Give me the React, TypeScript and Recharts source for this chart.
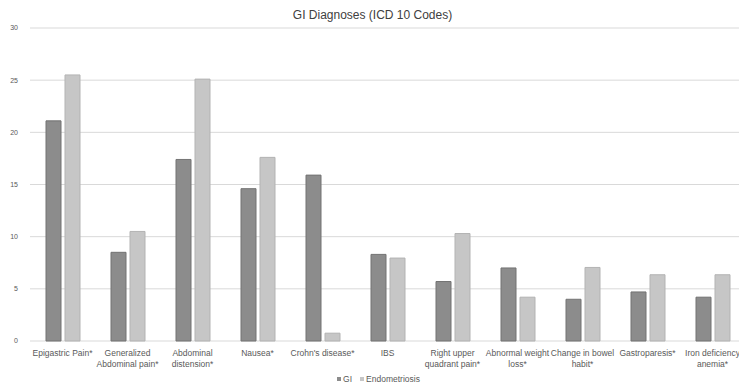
import React from "react";
import { BarChart, Bar, XAxis, YAxis, CartesianGrid, Legend } from "recharts";

// diagnosis labels, "\n" marks where the axis label wraps
const categories = [
  "Epigastric Pain*",
  "Generalized\nAbdominal pain*",
  "Abdominal\ndistension*",
  "Nausea*",
  "Crohn's disease*",
  "IBS",
  "Right upper\nquadrant pain*",
  "Abnormal weight\nloss*",
  "Change in bowel\nhabit*",
  "Gastroparesis*",
  "Iron deficiency\nanemia*",
];

const seriesNames = ["GI", "Endometriosis"];
const giValues = [21.1, 8.5, 17.4, 14.6, 15.9, 8.3, 5.7, 7.0, 4.0, 4.7, 4.2];
const endoValues = [25.5, 10.5, 25.1, 17.6, 0.75, 7.95, 10.3, 4.2, 7.05, 6.35, 6.35];
const yTicks = [0, 5, 10, 15, 20, 25, 30];

const data = categories.map((name, i) => ({
  name,
  GI: giValues[i],
  Endometriosis: endoValues[i],
}));

const FONT = "'Liberation Sans', Arial, sans-serif";

function CategoryTick({ x, y, payload }: any) {
  const lines = String(payload.value).split("\n");
  return (
    <text x={x} y={y} textAnchor="middle" fill="#595959" fontSize={8.5} fontFamily={FONT}>
      {lines.map((line, i) => (
        <tspan key={i} x={x} dy={i === 0 ? 7 : 11}>
          {line}
        </tspan>
      ))}
    </text>
  );
}

function SwatchLegend({ payload }: any) {
  const items = [...(payload || [])].sort(
    (a: any, b: any) => seriesNames.indexOf(a.value) - seriesNames.indexOf(b.value)
  );
  return (
    <div
      style={{
        height: 16,
        display: "flex",
        justifyContent: "center",
        alignItems: "center",
        paddingLeft: 20,
        fontFamily: FONT,
        fontSize: 8.5,
        color: "#595959",
      }}
    >
      {items.map((p: any) => (
        <span key={p.value} style={{ display: "flex", alignItems: "center", marginRight: 8 }}>
          <span style={{ width: 4, height: 4, background: p.color, marginRight: 2 }} />
          {p.value}
        </span>
      ))}
    </div>
  );
}

export default function App() {
  return (
    <div
      style={{
        position: "fixed",
        left: 0,
        top: 0,
        width: 739,
        height: 387,
        overflow: "hidden",
        background: "#fff",
      }}
    >
      <div
        style={{
          position: "absolute",
          top: 8,
          left: 0,
          width: 745,
          textAlign: "center",
          fontFamily: FONT,
          fontSize: 12,
          color: "#404040",
        }}
      >
        GI Diagnoses (ICD 10 Codes)
      </div>
      <BarChart
        width={745}
        height={387}
        data={data}
        margin={{ top: 28, right: 0, left: 0, bottom: 0 }}
        barSize={15}
        barGap={4}
      >
        <CartesianGrid vertical={false} stroke="#d9d9d9" />
        <XAxis
          dataKey="name"
          interval={0}
          axisLine={false}
          tickLine={false}
          height={30}
          tick={<CategoryTick />}
        />
        <YAxis
          width={30}
          domain={[0, 30]}
          ticks={yTicks}
          axisLine={false}
          tickLine={false}
          tickMargin={6}
          tick={{ fill: "#595959", fontSize: 7, fontFamily: FONT }}
        />
        <Legend verticalAlign="bottom" content={<SwatchLegend />} />
        <Bar dataKey="GI" fill="#8c8c8c" stroke="#737373" strokeWidth={1} isAnimationActive={false} />
        <Bar
          dataKey="Endometriosis"
          fill="#c6c6c6"
          stroke="#b3b3b3"
          strokeWidth={1}
          isAnimationActive={false}
        />
      </BarChart>
    </div>
  );
}
